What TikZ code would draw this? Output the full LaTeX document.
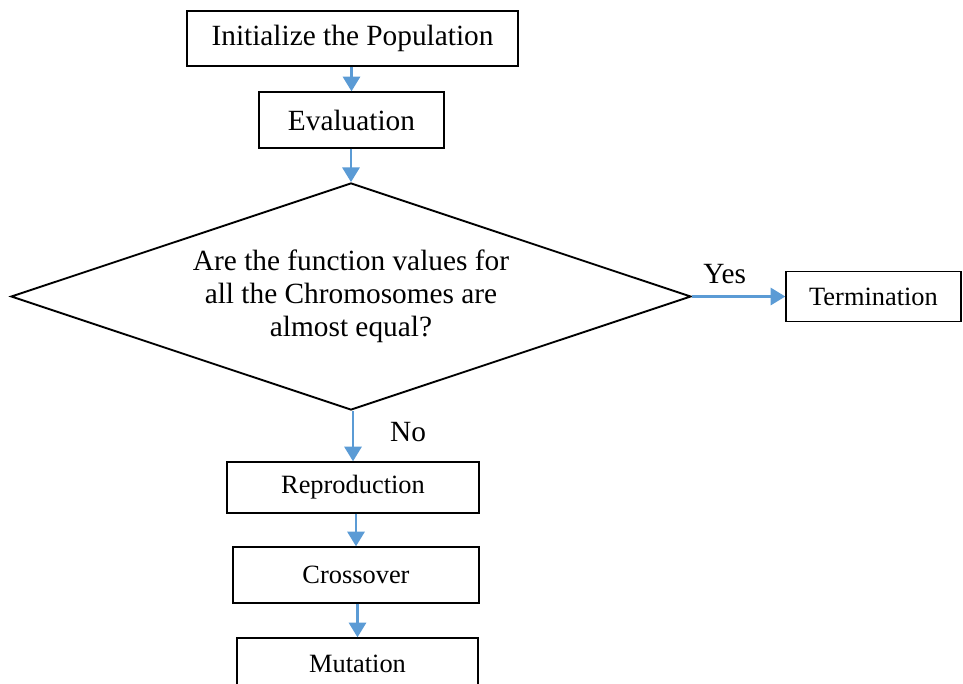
\documentclass[tikz,border=0pt]{standalone}
\usepackage{fontspec}
\setmainfont{Liberation Serif}
\usepackage{tikz}
\usetikzlibrary{arrows.meta,shapes.geometric}
\definecolor{flowblue}{RGB}{91,155,213}
\tikzset{
  box/.style={draw,line width=1.1pt,inner sep=0pt,font=\fontsize{22}{24.75}\selectfont},
  smallbox/.style={box,font=\fontsize{19.8}{23}\selectfont},
  decision/.style={box,diamond,aspect=3,align=center,line width=1.4pt},
  flow/.style={draw=flowblue,line width=1.6pt,-{Triangle[length=11pt,width=13pt]}},
  lab/.style={font=\fontsize{22}{24.75}\selectfont,inner sep=0pt}
}

\begin{document}
\begin{tikzpicture}[x=0.75pt,y=-0.75pt]
    \clip (0,0) rectangle (963,683);
    \node[box,minimum width=248.25pt,minimum height=41.25pt] (init) at (352.5,38.5) {Initialize the Population};
    \node[box,minimum width=138.75pt,minimum height=42pt] (eval) at (351.5,120) {Evaluation};
    \node[decision,minimum width=510pt,minimum height=170.25pt] (dia) at (351,296.5)
      {Are the function values for\\all the Chromosomes are\\almost equal?};
    \node[smallbox,minimum width=131.25pt,minimum height=37.5pt] (term) at (873.5,296.5) {Termination};
    \node[smallbox,minimum width=189pt,minimum height=38.25pt] (repro) at (353,487.5) {Reproduction};
    \node[smallbox,minimum width=184.5pt,minimum height=42pt] (cross) at (356,575) {Crossover};
    \node[smallbox,minimum width=180.75pt,minimum height=39pt] (mut) at (357.5,664) {Mutation};
    \draw[flow] (eval.north |- init.south) -- (eval.north);
    \draw[flow] (dia.north |- eval.south) -- (dia.north);
    \draw[flow] (dia.east) -- (term.west) node[lab,pos=0.35,above=9pt] (yes) {Yes};
    \draw[flow] (repro.north |- dia.south) -- (repro.north);
    \draw[flow] (cross.north |- repro.south) -- (cross.north);
    \draw[flow] (mut.north |- cross.south) -- (mut.north);
    \node[lab] (no) at (408,432.5) {No};
\end{tikzpicture}
\end{document}
